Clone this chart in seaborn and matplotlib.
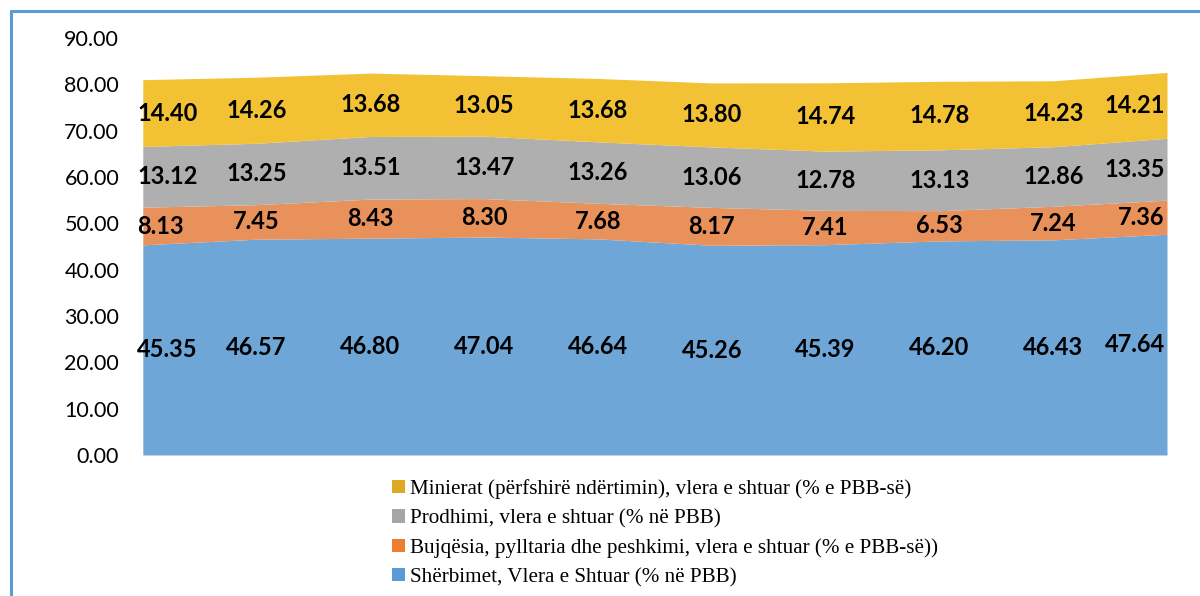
import numpy as np
import matplotlib.pyplot as plt
import seaborn as sns
from matplotlib.lines import Line2D
from matplotlib.patches import Patch

# Values (share of GDP, %), 10 periods
sherbimet = [45.35, 46.57, 46.80, 47.04, 46.64, 45.26, 45.39, 46.20, 46.43, 47.64]
bujqesia = [8.13, 7.45, 8.43, 8.30, 7.68, 8.17, 7.41, 6.53, 7.24, 7.36]
prodhimi = [13.12, 13.25, 13.51, 13.47, 13.26, 13.06, 12.78, 13.13, 12.86, 13.35]
minierat = [14.40, 14.26, 13.68, 13.05, 13.68, 13.80, 14.74, 14.78, 14.23, 14.21]

labels = ["Shërbimet, Vlera e Shtuar (% në PBB)",
          "Bujqësia, pylltaria dhe peshkimi, vlera e shtuar (% e PBB-së))",
          "Prodhimi, vlera e shtuar (% në PBB)",
          "Minierat (përfshirë ndërtimin), vlera e shtuar (% e PBB-së)"]
fill_colors = ["#6FA6D8", "#E9915A", "#AFAFAF", "#F2C234"]
legend_colors = ["#5B9BD5", "#ED7D31", "#A5A5A5", "#DDAA22"]

sns.set_theme(style="white")
plt.rcParams['font.family'] = ['Open Sans', 'DejaVu Sans']
plt.rcParams['text.color'] = 'black'
plt.rcParams['ytick.color'] = 'black'

fig = plt.figure(figsize=(12, 5.96), dpi=100)
ax = fig.add_axes([0.119, 0.2366, 0.8535, 0.6997])

x = np.arange(len(sherbimet))
series = [sherbimet, bujqesia, prodhimi, minierat]
ax.stackplot(x, *series, colors=fill_colors, linewidth=0)

# data labels in the middle of each band
base = np.zeros(len(x))
for s in series:
    s = np.array(s)
    mid = base + s / 2
    for i in x:
        ha = "center"
        xi = i
        if i == 0:
            ha, xi = "left", -0.05
        elif i == len(x) - 1:
            ha, xi = "right", len(x) - 1.02
        ax.text(xi, mid[i], f"{s[i]:.2f}", ha=ha, va="center",
                fontsize=17, fontweight="bold", color="black",
                family=["Lato", "DejaVu Sans"])
    base = base + s

ax.set_xlim(0, len(x) - 1)
ax.set_ylim(0, 90)
ax.set_yticks(np.arange(0, 91, 10))
ax.set_yticklabels([f"{v:.2f}" for v in np.arange(0, 91, 10)], fontsize=15.5,
                   family=["Lato", "DejaVu Sans"])
ax.set_xticks([])
ax.tick_params(axis="y", length=0, pad=17)
for sp in ax.spines.values():
    sp.set_visible(False)

handles = [Patch(facecolor=c, edgecolor="none") for c in legend_colors[::-1]]
leg = fig.legend(handles, labels[::-1], loc="upper left",
                 bbox_to_anchor=(0.32, 0.21), frameon=False,
                 prop={"family": "Liberation Serif", "size": 15.2},
                 handlelength=0.6, handleheight=0.6, handletextpad=0.25,
                 labelspacing=0.47, borderaxespad=0)

# outer frame (left and top edges visible)
fig.add_artist(Line2D([0.0088, 0.0088], [0.0, 0.9815], color="#5B9BD5", lw=2.2))
fig.add_artist(Line2D([0.0088, 1.0], [0.9815, 0.9815], color="#5B9BD5", lw=2.2))

fig.savefig("out.png", dpi=100)
